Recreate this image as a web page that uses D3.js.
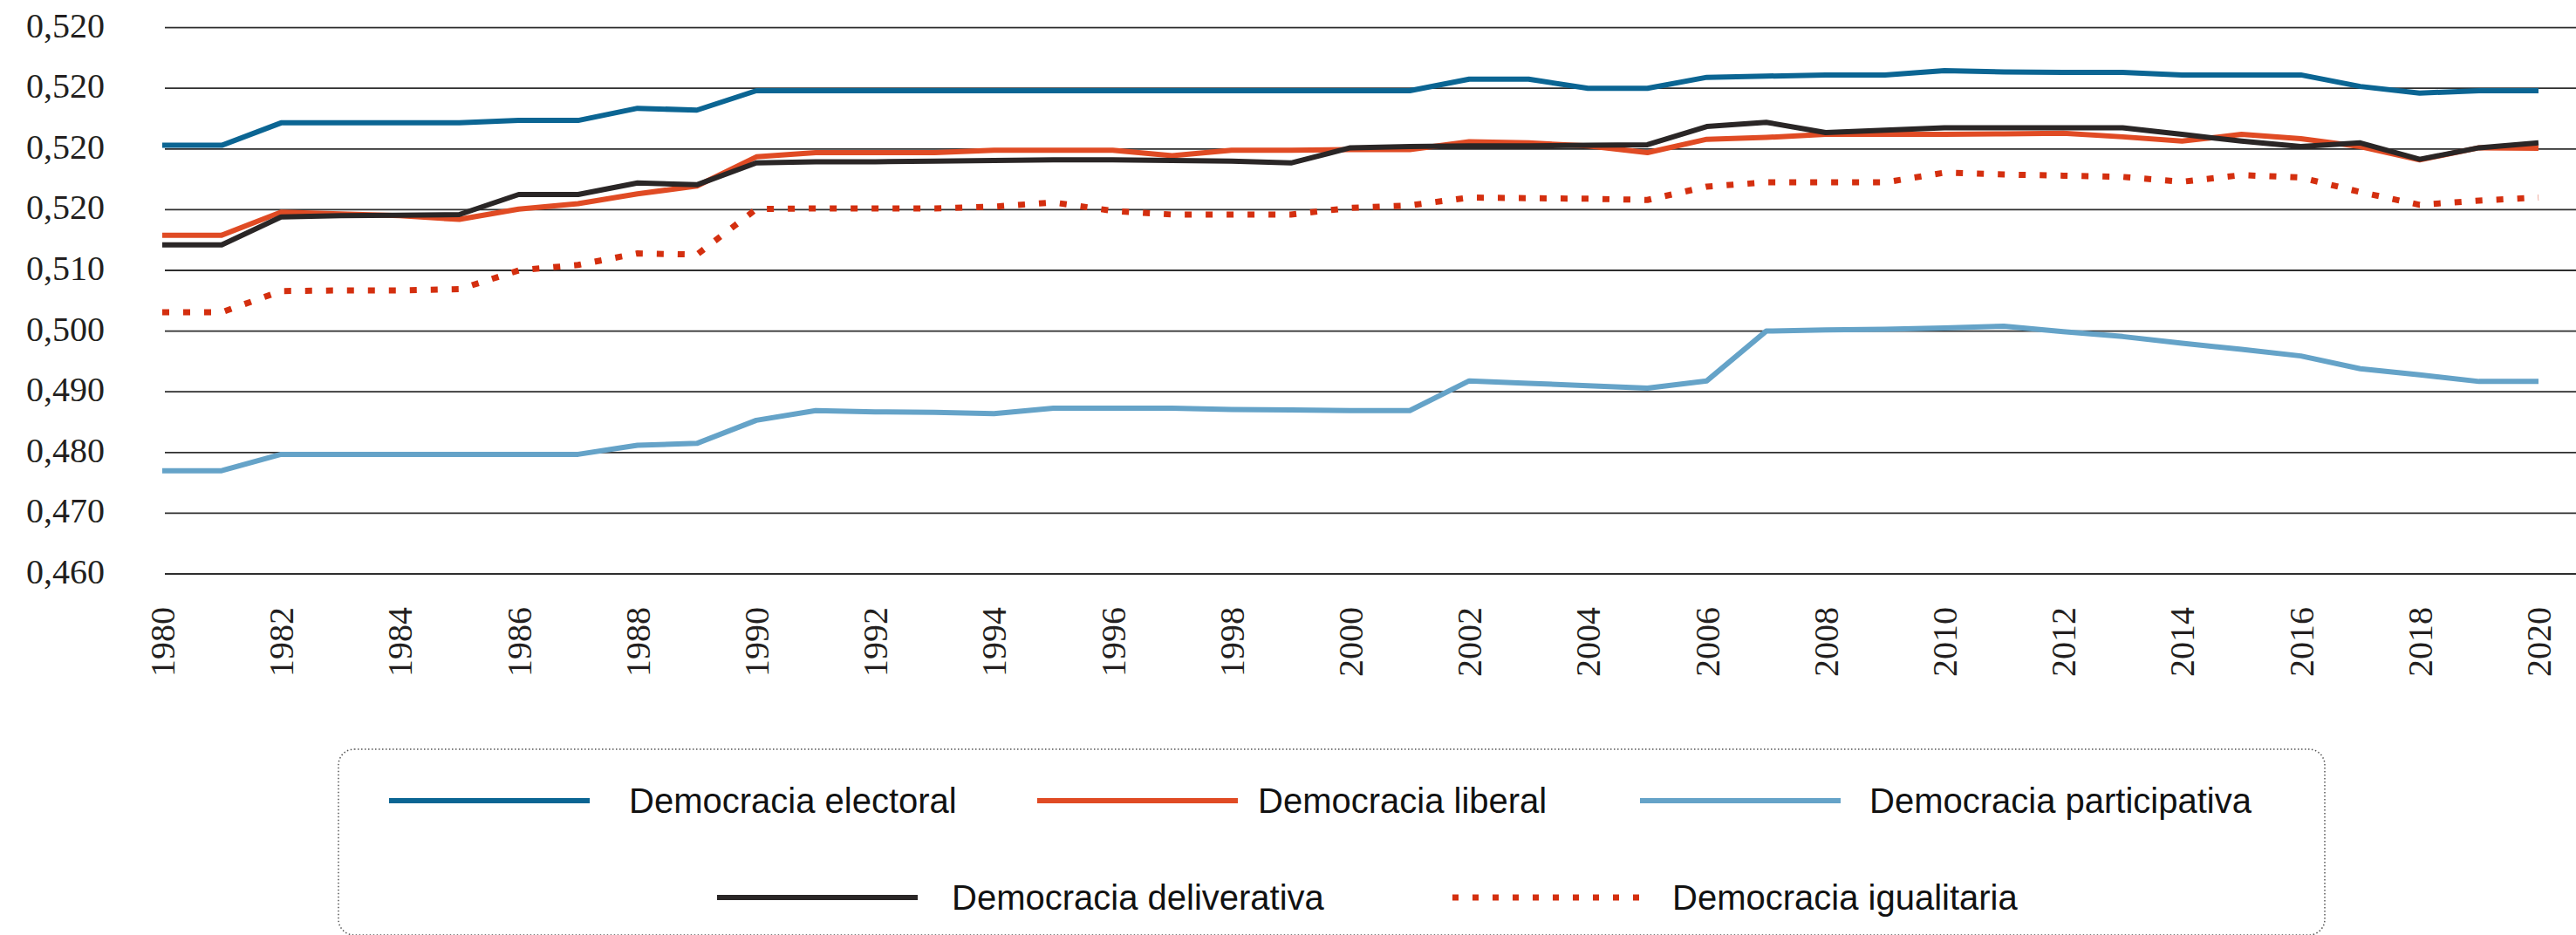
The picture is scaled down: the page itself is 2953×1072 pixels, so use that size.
<!DOCTYPE html>
<html>
<head>
<meta charset="utf-8">
<script src="https://cdn.jsdelivr.net/npm/d3@7"></script>
<style>
  body { margin: 0; background: #fff; }
  svg { display: block; }
  .ylab, .xlab { font-family: "Liberation Serif", "DejaVu Serif", serif; font-size: 40px; fill: #231f20; }
  .leg { font-family: "Liberation Sans Narrow", "Liberation Sans", sans-serif; font-size: 40px; fill: #111; }
</style>
</head>
<body>
<svg id="chart" width="2953" height="1072"></svg>
<script>
const years = d3.range(1980, 2021)
const yearLabels = years.filter(y => y % 2 === 0)

const gridValues = [0.46, 0.47, 0.48, 0.49, 0.50, 0.51, 0.52, 0.53, 0.54, 0.55]
// labels as printed in the original (top ones all read 0,520)
const gridLabels = ["0,460", "0,470", "0,480", "0,490", "0,500", "0,510", "0,520", "0,520", "0,520", "0,520"]

const electoral = [0.5306, 0.5306, 0.5343, 0.5343, 0.5343, 0.5343, 0.5347, 0.5347, 0.5367, 0.5364,
  0.5396, 0.5396, 0.5396, 0.5396, 0.5396, 0.5396, 0.5396, 0.5396, 0.5396, 0.5396,
  0.5396, 0.5396, 0.5415, 0.5415, 0.5400, 0.5400, 0.5418, 0.5420, 0.5422, 0.5422,
  0.5429, 0.5427, 0.5426, 0.5426, 0.5422, 0.5422, 0.5422, 0.5403, 0.5392, 0.5396, 0.5396]

const liberal = [0.5158, 0.5158, 0.5196, 0.5193, 0.5190, 0.5184, 0.5201, 0.5210, 0.5226, 0.5239,
  0.5287, 0.5294, 0.5294, 0.5294, 0.5298, 0.5298, 0.5298, 0.5289, 0.5298, 0.5298,
  0.5299, 0.5299, 0.5312, 0.5310, 0.5305, 0.5294, 0.5316, 0.5319, 0.5324, 0.5324,
  0.5324, 0.5325, 0.5326, 0.5320, 0.5313, 0.5324, 0.5317, 0.5304, 0.5282, 0.5302, 0.5301]

const participativa = [0.4770, 0.4770, 0.4797, 0.4797, 0.4797, 0.4797, 0.4797, 0.4797, 0.4812, 0.4815,
  0.4853, 0.4869, 0.4867, 0.4866, 0.4864, 0.4873, 0.4873, 0.4873, 0.4871, 0.4870,
  0.4869, 0.4869, 0.4918, 0.4914, 0.4910, 0.4906, 0.4918, 0.5000, 0.5002, 0.5003,
  0.5005, 0.5008, 0.4999, 0.4991, 0.4980, 0.4970, 0.4959, 0.4938, 0.4928, 0.4917, 0.4917]

const deliberativa = [0.5142, 0.5142, 0.5188, 0.5190, 0.5191, 0.5192, 0.5225, 0.5225, 0.5244, 0.5241,
  0.5277, 0.5279, 0.5279, 0.5280, 0.5281, 0.5282, 0.5282, 0.5281, 0.5280, 0.5277,
  0.5302, 0.5304, 0.5305, 0.5305, 0.5306, 0.5307, 0.5337, 0.5344, 0.5327, 0.5331,
  0.5335, 0.5335, 0.5335, 0.5335, 0.5324, 0.5313, 0.5304, 0.5310, 0.5283, 0.5302, 0.5310]

const igualitaria = [0.5031, 0.5031, 0.5066, 0.5067, 0.5067, 0.5069, 0.5100, 0.5109, 0.5128, 0.5126,
  0.5201, 0.5202, 0.5202, 0.5202, 0.5205, 0.5212, 0.5198, 0.5192, 0.5192, 0.5192,
  0.5203, 0.5207, 0.5220, 0.5219, 0.5218, 0.5216, 0.5238, 0.5245, 0.5245, 0.5245,
  0.5261, 0.5258, 0.5256, 0.5254, 0.5246, 0.5257, 0.5253, 0.5229, 0.5208, 0.5215, 0.5220]

const series = [
  {name: "Democracia electoral", values: electoral, color: "#0b6593", dash: null},
  {name: "Democracia liberal", values: liberal, color: "#e04b24", dash: null},
  {name: "Democracia participativa", values: participativa, color: "#65a3c8", dash: null},
  {name: "Democracia deliverativa", values: deliberativa, color: "#2a2626", dash: null},
  {name: "Democracia igualitaria", values: igualitaria, color: "#d42f0f", dash: "8 16"}
]

const svg = d3.select('#chart')

const x = d3.scaleLinear().domain([1980, 2020]).range([186, 2910])
const y = d3.scaleLinear().domain([0.46, 0.55]).range([658, 31.6])

// gridlines
svg.append('g')
  .selectAll('line')
  .data(gridValues)
  .enter()
  .append('line')
  .attr('x1', 189)
  .attr('x2', 2953)
  .attr('y1', d => y(d))
  .attr('y2', d => y(d))
  .attr('stroke', '#2e2e2e')
  .attr('stroke-width', 1.8)

svg.append('g')
  .selectAll('text')
  .data(gridValues)
  .enter()
  .append('text')
  .attr('class', 'ylab')
  .attr('x', 120)
  .attr('y', d => y(d) - 3)
  .attr('dy', '0.35em')
  .attr('text-anchor', 'end')
  .text((d, i) => gridLabels[i])

svg.append('g')
  .selectAll('text')
  .data(yearLabels)
  .enter()
  .append('text')
  .attr('class', 'xlab')
  .attr('transform', d => `translate(${x(d)},696) rotate(-90)`)
  .attr('dy', '0.35em')
  .attr('text-anchor', 'end')
  .text(d => d)

const line = d3.line()
  .x((d, i) => x(years[i]))
  .y(d => y(d))

svg.append('g')
  .selectAll('path')
  .data(series)
  .enter()
  .append('path')
  .attr('d', s => line(s.values))
  .attr('fill', 'none')
  .attr('stroke', s => s.color)
  .attr('stroke-width', s => s.dash ? 7 : 6)
  .attr('stroke-dasharray', s => s.dash)
  .attr('stroke-linejoin', 'round')

// legend
svg.append('rect')
  .attr('x', 388)
  .attr('y', 859)
  .attr('width', 2277)
  .attr('height', 213)
  .attr('rx', 18)
  .attr('fill', 'none')
  .attr('stroke', '#555')
  .attr('stroke-width', 1.5)
  .attr('stroke-dasharray', '1.5 2.5')

// line start and text offset for each legend entry
const legendPos = [
  {x: 446, y: 918, tx: 275}, {x: 1189, y: 918, tx: 253}, {x: 1880, y: 918, tx: 263},
  {x: 822, y: 1029, tx: 269}, {x: 1665, y: 1029, tx: 252}
]

const items = svg.append('g')
  .selectAll('g')
  .data(series)
  .enter()
  .append('g')
  .attr('transform', (s, i) => `translate(${legendPos[i].x},${legendPos[i].y})`)

items.append('line')
  .attr('x1', 0)
  .attr('x2', 230)
  .attr('stroke', s => s.color)
  .attr('stroke-width', s => s.dash ? 7 : 6)
  .attr('stroke-dasharray', s => s.dash ? '7 16' : null)

items.append('text')
  .attr('class', 'leg')
  .attr('x', (s, i) => legendPos[i].tx)
  .attr('y', 14)
  .text(s => s.name)
</script>
</body>
</html>
